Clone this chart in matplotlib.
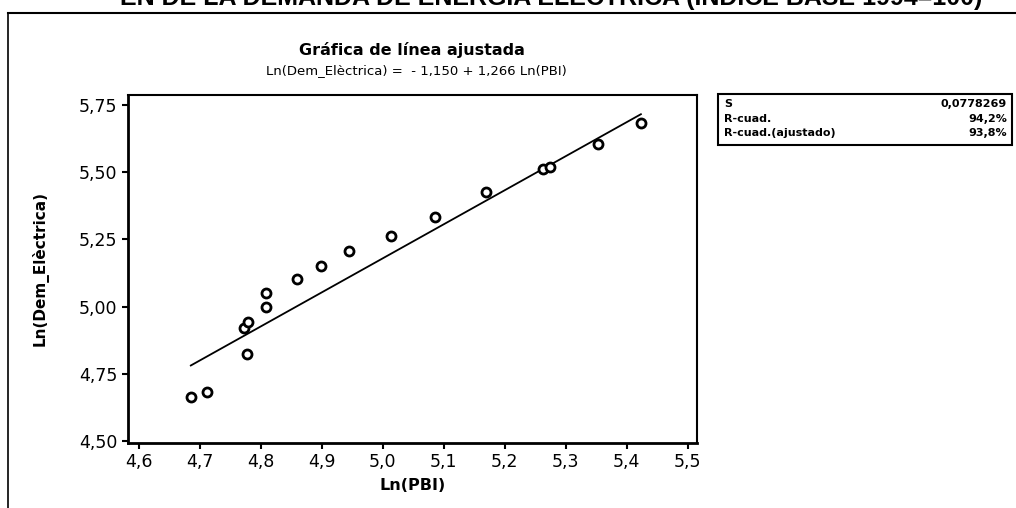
import matplotlib.pyplot as plt
from matplotlib.lines import Line2D
from matplotlib.patches import Rectangle

# Ln(PBI) vs Ln(Dem_Electrica)
ln_pbi = [4.685, 4.711, 4.777, 4.772, 4.779, 4.808, 4.808, 4.859, 4.898,
          4.944, 5.014, 5.085, 5.169, 5.262, 5.274, 5.353, 5.423]
ln_dem = [4.665, 4.681, 4.824, 4.920, 4.944, 5.000, 5.050, 5.101, 5.152,
          5.207, 5.262, 5.334, 5.428, 5.512, 5.518, 5.605, 5.682]

intercept = -1.150
slope = 1.266

x_ticks = [4.6, 4.7, 4.8, 4.9, 5.0, 5.1, 5.2, 5.3, 5.4, 5.5]
x_tick_labels = ["4,6", "4,7", "4,8", "4,9", "5,0", "5,1", "5,2", "5,3", "5,4", "5,5"]
y_ticks = [4.50, 4.75, 5.00, 5.25, 5.50, 5.75]
y_tick_labels = ["4,50", "4,75", "5,00", "5,25", "5,50", "5,75"]

stat_names = ["S", "R-cuad.", "R-cuad.(ajustado)"]
stat_values = ["0,0778269", "94,2%", "93,8%"]

fig = plt.figure(figsize=(10.16, 5.08), dpi=100)
W, H = 1016, 508


def fx(px):
    return px / W


def fy(py):
    return 1 - py / H


# outer frame of the scanned page
fig.add_artist(Line2D([fx(8), fx(8)], [fy(13), 0], color="black", lw=1.2))
fig.add_artist(Line2D([fx(8), 1], [fy(13), fy(13)], color="black", lw=1.5))

# page heading, cut off at the top like in the scan
fig.text(fx(551), fy(-2), "EN DE LA DEMANDA DE ENERGIA ELECTRICA (INDICE BASE 1994=100)",
         family="Liberation Sans", weight="bold", fontsize=18, ha="center", va="center")

ax = fig.add_axes([fx(128), fy(443), fx(697) - fx(128), fy(95) - fy(443)])

# fitted line over the data range
x0, x1 = min(ln_pbi), max(ln_pbi)
ax.plot([x0, x1], [intercept + slope * x0, intercept + slope * x1], color="black", lw=1.3)
ax.plot(ln_pbi, ln_dem, "o", color="black", mfc="white", ms=6.5, mew=2)

ax.set_xlim(4.582, 5.515)
ax.set_ylim(4.493, 5.787)
ax.set_xticks(x_ticks)
ax.set_xticklabels(x_tick_labels)
ax.set_yticks(y_ticks)
ax.set_yticklabels(y_tick_labels)
ax.tick_params(direction="out", length=4, width=1.5, labelsize=12.5, colors="black")
for side in ["left", "bottom"]:
    ax.spines[side].set_linewidth(2)
for side in ["top", "right"]:
    ax.spines[side].set_linewidth(1.5)

ax.set_xlabel("Ln(PBI)", fontsize=11.5, weight="bold", labelpad=5)
ax.set_ylabel("Ln(Dem_Elèctrica)", fontsize=11, weight="bold", labelpad=22)

fig.text(fx(412), fy(50), "Gráfica de línea ajustada", fontsize=11.5, weight="bold",
         ha="center", va="center")
fig.text(fx(416), fy(71), "Ln(Dem_Elèctrica) =  - 1,150 + 1,266 Ln(PBI)", fontsize=9.5,
         ha="center", va="center")

# stats box
fig.add_artist(Rectangle((fx(718), fy(145)), fx(1012) - fx(718), fy(94) - fy(145),
                         fill=False, edgecolor="black", lw=1.5))
for i in range(len(stat_names)):
    yy = fy(104 + i * 14.5)
    fig.text(fx(724), yy, stat_names[i], fontsize=8, weight="bold", va="center", ha="left")
    fig.text(fx(1007), yy, stat_values[i], fontsize=8, weight="bold", va="center", ha="right")

fig.savefig("out.png", dpi=100)
